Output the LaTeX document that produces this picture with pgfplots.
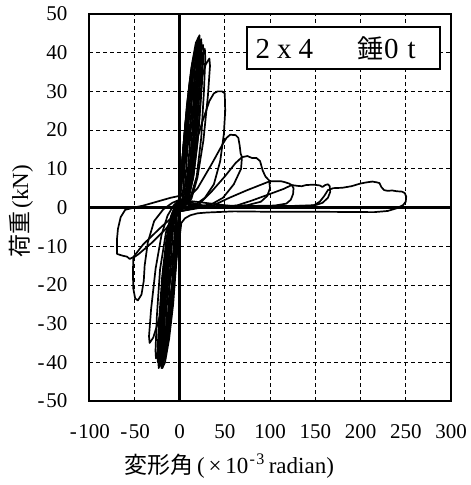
\documentclass[border=0pt]{standalone}
\usepackage{fontspec}
\setmainfont{Liberation Serif}
\newfontfamily\jp{Noto Sans CJK JP}
\usepackage{pgfplots}
\pgfplotsset{compat=1.18}
\usetikzlibrary{calc}

\newcommand{\m}{\makebox[0.5em]{-}}
\pgfplotsset{loop/.style={black, line width=1.7pt, line join=round, no markers}}

\begin{document}
\begin{tikzpicture}
\begin{axis}[
  name=ax, scale only axis, width=362pt, height=387pt,
  xmin=-100, xmax=300, ymin=-50, ymax=50,
  xtick={-100,-50,...,300}, ytick={-50,-40,...,50},
  xticklabels={\m100,\m50,0,50,100,150,200,250,300},
  yticklabels={\m50,\m40,\m30,\m20,\m10,0,10,20,30,40,50},
  major tick length=0pt,
  grid=major,
  major grid style={black, line width=0.7pt, dash pattern=on 4pt off 3pt},
  axis line style={line width=2.2pt},
  tick label style={font=\fontsize{21}{24}\selectfont},
  xticklabel style={yshift=-20pt},
  yticklabel style={xshift=-18pt},
  xlabel={{\jp 変形角}\,(\,×\,10\textsuperscript{\m3}\,radian)},
  ylabel={{\jp 荷重}\,(kN)},
  label style={font=\fontsize{23}{26}\selectfont},
  xlabel style={at={(axis description cs:0.387,-0.168)}, anchor=center},
  ylabel style={at={(axis description cs:-0.188,0.49)}, anchor=center},
  clip=true,
]
% small cycles
\addplot[loop] coordinates {(0,2) (0.6,3.2) (2.1,8) (3.9,12.8) (5.3,15.4) (6,16) (6.1,15.2) (5.7,12) (4.8,7.2) (3.6,3.2) (2.4,1) (1.2,0.5) (0,-1)
 (-0.5,-2.6) (-1.8,-6.5) (-3.3,-10.4) (-4.4,-12.5) (-5,-13) (-5.1,-12.4) (-4.8,-9.8) (-4,-5.9) (-3,-2.6) (-2,-0.8) (-1,0.5) (0,2)};
\addplot[loop] coordinates {(0,2) (1,5.4) (3.5,13.5) (6.5,21.6) (8.8,25.9) (10,27) (10.2,25.7) (9.5,20.3) (8,12.2) (6,5.4) (4,1.6) (2,0.5) (0,-1)
 (-0.8,-4.4) (-2.8,-11) (-5.2,-17.6) (-7,-21.1) (-8,-22) (-8.2,-20.9) (-7.6,-16.5) (-6.4,-9.9) (-4.8,-4.4) (-3.2,-1.3) (-1.6,0.5) (0,2)};
\addplot[loop] coordinates {(0,2) (1.4,7) (4.9,17.5) (9.1,28) (12.3,33.6) (14,35) (14.3,33.3) (13.3,26.3) (11.2,15.8) (8.4,7) (5.6,2.1) (2.8,0.5) (0,-1)
 (-1.2,-6) (-4.2,-15) (-7.8,-24) (-10.6,-28.8) (-12,-30) (-12.2,-28.5) (-11.4,-22.5) (-9.6,-13.5) (-7.2,-6) (-4.8,-1.8) (-2.4,0.5) (0,2)};
\addplot[loop] coordinates {(0,2) (1.7,8) (6,20) (11,32) (15,38.4) (17,40) (17.3,38) (16.2,30) (13.6,18) (10.2,8) (6.8,2.4) (3.4,0.5) (0,-1)
 (-1.5,-7.2) (-5.3,-18) (-9.8,-28.8) (-13.2,-34.6) (-15,-36) (-15.3,-34.2) (-14.3,-27) (-12,-16.2) (-9,-7.2) (-6,-2.2) (-3,0.5) (0,2)};
\addplot[loop] coordinates {(0,2) (1.9,8.2) (6.7,20.5) (12.4,32.8) (16.7,39.4) (19,41) (19.4,39) (18,30.8) (15.2,18.5) (11.4,8.2) (7.6,2.5) (3.8,0.5) (0,-1)
 (-1.7,-7.6) (-6,-19) (-11,-30.4) (-15,-36.5) (-17,-38) (-17.3,-36.1) (-16.2,-28.5) (-13.6,-17.1) (-10.2,-7.6) (-6.8,-2.3) (-3.4,0.5) (0,2)};
\addplot[loop] coordinates {(0,2) (2,8.6) (7,21.5) (13,34.4) (17.6,41.3) (20,43) (20.4,40.9) (19,32.3) (16,19.4) (12,8.6) (8,2.6) (4,0.5) (0,-1)
 (-1.8,-8) (-6.3,-20) (-11.7,-32) (-15.8,-38.4) (-18,-40) (-18.4,-38) (-17.1,-30) (-14.4,-18) (-10.8,-8) (-7.2,-2.4) (-3.6,0.5) (0,2)};
\addplot[loop] coordinates {(0,2) (3,12) (8,26) (13,36) (18,42.5) (21,44) (21.3,42) (20,34) (17,21) (13,10) (8,3) (3,0.5) (0,-1)
 (-2.5,-11) (-7,-25) (-11.5,-34) (-16,-40) (-19,-41.5) (-19.3,-39) (-18,-30) (-15,-17) (-10.5,-7) (-5.5,-1.5) (-2,0.8) (0,2)};
\addplot[loop] coordinates {(0,2) (2.2,8.9) (7.7,22.3) (14.3,35.6) (19.4,42.7) (22,44.5) (22.4,42.3) (20.9,33.4) (17.6,20) (13.2,8.9) (8.8,2.7) (4.4,0.5) (0,-1)
 (-2,-8.3) (-7,-20.8) (-13,-33.2) (-17.6,-39.8) (-20,-41.5) (-20.4,-39.4) (-19,-31.1) (-16,-18.7) (-12,-8.3) (-8,-2.5) (-4,0.5) (0,2)};
\addplot[loop] coordinates {(0,2) (3,10) (9,24) (15.5,35) (20.5,41) (23,42.5) (23.3,40) (21.5,30) (18,17) (13,7) (8,2) (3,0.3) (0,-1)
 (-2.5,-10) (-8,-23) (-14,-34) (-18.5,-39.5) (-21,-40.5) (-21.3,-38) (-19.5,-28) (-16,-15) (-11,-6) (-6,-1.5) (-2,0.8) (0,2)};
\addplot[loop] coordinates {(0,2) (2.4,8.7) (8.4,21.8) (15.6,34.8) (21.1,41.8) (24,43.5) (24.5,41.3) (22.8,32.6) (19.2,19.6) (14.4,8.7) (9.6,2.6) (4.8,0.5) (0,-1)
 (-2.2,-8.2) (-7.7,-20.5) (-14.3,-32.8) (-19.4,-39.4) (-22,-41) (-22.4,-39) (-20.9,-30.8) (-17.6,-18.5) (-13.2,-8.2) (-8.8,-2.5) (-4.4,0.5) (0,2)};
\addplot[loop] coordinates {(0,2) (3,9) (10,22) (17,33) (22,38.8) (25,40) (25.3,38) (23.5,29) (20,17) (15,7.5) (9,2) (4,0.4) (0,-1)
 (-2.8,-9.5) (-9,-22) (-15.5,-33.5) (-20.5,-40) (-23,-41.5) (-23.4,-39) (-21.5,-29) (-18,-16) (-12.5,-6.5) (-7,-1.8) (-2.5,0.8) (0,2)};
\addplot[loop] coordinates {(0,2) (2.6,8.4) (9.1,21) (16.9,33.6) (22.9,40.3) (26,42) (26.5,39.9) (24.7,31.5) (20.8,18.9) (15.6,8.4) (10.4,2.5) (5.2,0.5) (0,-1)
 (-2.4,-8) (-8.4,-20) (-15.6,-32) (-21.1,-38.4) (-24,-40) (-24.5,-38) (-22.8,-30) (-19.2,-18) (-14.4,-8) (-9.6,-2.4) (-4.8,0.5) (0,2)};
\addplot[loop] coordinates {(0,2) (4,9) (12,22) (20,33) (25,39) (28,41) (28.5,38.5) (27,30) (24,18) (19,8) (12,2.5) (5,0.4) (0,-1)
 (-3.5,-8.5) (-11,-20) (-18,-30) (-23,-36.5) (-26,-39) (-26.5,-37) (-25,-28) (-21.5,-16) (-15,-6.5) (-8,-1.5) (-3,0.8) (0,2)};
\addplot[loop] coordinates {(0,2) (3.3,7.7) (11.5,19.3) (21.5,30.8) (29,37) (33,38.5) (33.7,36.6) (31.4,28.9) (26.4,17.3) (19.8,7.7) (13.2,2.3) (6.6,0.5) (0,-1)
 (-3.3,-7) (-11.5,-17.5) (-21.5,-28) (-29,-33.6) (-33,-35) (-33.7,-33.3) (-31.4,-26.3) (-26.4,-15.8) (-19.8,-7) (-13.2,-2.1) (-6.6,0.5) (0,2)};
% larger cycles
\addplot[loop] coordinates {(0,2) (5,5) (15,14) (25,22) (33,27.5) (38,29.5) (42,30) (47,30) (50,29.5) (50.5,25) (49,19) (45,12) (38,6) (28,2.5) (18,0.8) (8,0.3) (0,-1)
 (-3,-2) (-15,-5.5) (-30,-9) (-45,-12) (-51,-13) (-51.5,-17) (-51,-21) (-49,-23.5) (-46,-24) (-42,-22.5) (-39.5,-19) (-38.5,-15) (-35,-9) (-28,-3.5) (-18,-0.5) (-8,1.2) (0,2)};
\addplot[loop] coordinates {(0,2) (10,2.5) (20,5) (35,11) (48,16.5) (52,18) (56,18.8) (62,18.7) (65,18) (66.5,16) (67.5,14) (69,13) (68,10) (60,6) (48,2.5) (35,0.8) (20,0.3) (5,0) (0,-1)
 (-3,-1.5) (-20,-5) (-40,-9.5) (-51,-12.8) (-55,-13.3) (-58,-12.7) (-62,-12.5) (-65,-12.3) (-69,-12) (-69,-8) (-68,-5.5) (-65,-2.5) (-60,-0.6) (-50,0) (-40,0.5) (-25,1.5) (-10,2.5) (0,3)};
\addplot[loop] coordinates {(0,2) (10,0.8) (20,0.5) (35,4) (50,8) (62,11.5) (69,13) (75,13.3) (80,12.8) (85,12.8) (89,12) (92,9.5) (95,8) (99,7) (100,5) (97,3) (90,1.5) (75,0.6) (50,0.3) (25,0) (0,-1)};
\addplot[loop] coordinates {(0,2) (20,0.3) (37,0.5) (55,2.5) (75,4.5) (100,6.8) (106,6.8) (112,6.8) (117,6.5) (121,6.2) (124,5.8) (126,5) (125.5,3.5) (123,2) (118,1) (105,0.5) (80,0.4) (50,0.3) (20,0) (0,-1)};
\addplot[loop] coordinates {(0,2) (30,0.3) (63,0.5) (80,1.8) (100,3.5) (115,4.8) (124,5.8) (130,5.6) (135,5.5) (140,5.8) (148,5.9) (155,5.7) (158,5.3) (161,5.8) (164,6) (166,5.5) (166.5,4) (164,2.5) (158,1.2) (150,0.6) (130,0.4) (100,0.3) (60,0.2) (20,0) (0,-1)};
\addplot[loop] coordinates {(0,2) (60,0.3) (120,0.4) (148,0.5) (155,1.5) (160,3) (164,4.5) (170,5) (180,5.1) (190,5.5) (200,6.2) (207,6.5) (213,6.7) (218,6.5) (221,6.3) (223,5.3) (226,4.5) (230,4.3) (235,4.4) (240,4.2) (246,4.1) (249,3.7) (250.5,2.8) (250,1.5) (247,0.6) (240,-0.2) (230,-0.9) (215,-1.2) (150,-1.1) (100,-1.1) (60,-1) (30,-1.3) (20,-1.5) (12,-2) (6,-2.8) (2,-4) (0.5,-7) (0,-10)};
% zero lines
\draw[line width=2.2pt] (axis cs:0,-50) -- (axis cs:0,50);
\draw[line width=2.2pt] (axis cs:-100,0) -- (axis cs:300,0);
% title box
\draw[line width=2pt, fill=white] (axis cs:75,46.6) rectangle (axis cs:288,35.8);
\node[font=\fontsize{29}{30}\selectfont, anchor=west, inner sep=0pt] at (axis cs:84,41.2) {2\hspace{7pt}x\hspace{7pt}4\hspace{44pt}{\jp\fontsize{26}{30}\selectfont 錘}\hspace{1pt}0\hspace{9pt}t};
\end{axis}
\pgfresetboundingbox
\path ($(ax.south west)+(-89pt,-84pt)$) rectangle ($(ax.north east)+(19pt,14pt)$);
\end{tikzpicture}
\end{document}
